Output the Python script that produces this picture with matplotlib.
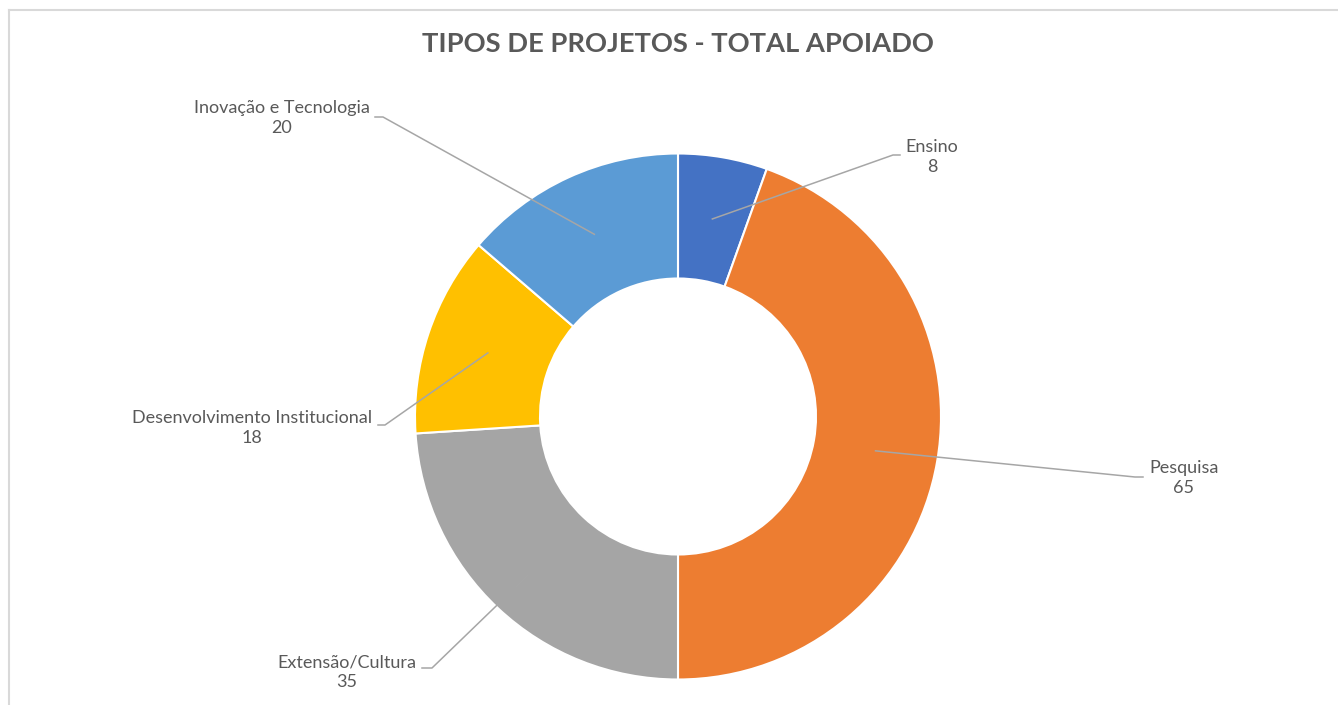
import numpy as np
import matplotlib
matplotlib.use('Agg')
import matplotlib.pyplot as plt

plt.rcParams['font.family'] = ['Lato', 'DejaVu Sans']

categories = ['Ensino', 'Pesquisa', 'Extensão/Cultura', 'Desenvolvimento Institucional', 'Inovação e Tecnologia']
values = [8, 65, 35, 18, 20]
colors = ['#4472C4', '#ED7D31', '#A5A5A5', '#FFC000', '#5B9BD5']
title = 'TIPOS DE PROJETOS - TOTAL APOIADO'

# layout in pixels (y measured from top)
W, H = 1338, 705
cx, cy = 678, 416.5
r_out, r_in = 263, 138
label_xy = [(932, 157), (1184, 478), (347, 672), (252, 428), (282, 118)]
elbow = [(893, 155), (1135, 477), (432, 668), (385, 425), (383, 117)]
line_end = [(900, 155), (1143, 477), (422, 668), (378, 425), (375, 117)]

fig = plt.figure(figsize=(W/100, H/100), dpi=100)
ax = fig.add_axes([0, 0, 1, 1])
wedges, _ = ax.pie(values, colors=colors, startangle=90, counterclock=False,
                   radius=r_out, center=(cx, H-cy),
                   wedgeprops=dict(width=r_out-r_in, edgecolor='white', linewidth=1.5))
ax.set_xlim(0, W)
ax.set_ylim(0, H)
ax.set_aspect('equal')
ax.axis('off')

rm = (r_out+r_in)/2
for w, lab, v, lxy, el, le in zip(wedges, categories, values, label_xy, elbow, line_end):
    a = np.deg2rad((w.theta1+w.theta2)/2)
    px, py = cx+rm*np.cos(a), (H-cy)+rm*np.sin(a)
    ax.plot([px, el[0], le[0]], [py, H-el[1], H-le[1]], color='#A6A6A6', lw=1.1)
    ax.text(lxy[0], H-lxy[1], '%s\n%d' % (lab, v), ha='center', va='center',
            fontsize=13, color='#595959', linespacing=1.3)

ax.text(cx, H-44, title, ha='center', va='center', fontsize=19.7,
        fontweight='bold', color='#595959')

# chart border
ax.plot([9, W], [H-10, H-10], color='#D9D9D9', lw=1.5, clip_on=False)
ax.plot([9, 9], [H-10, 0], color='#D9D9D9', lw=1.5, clip_on=False)

fig.savefig('out.png', dpi=100)
